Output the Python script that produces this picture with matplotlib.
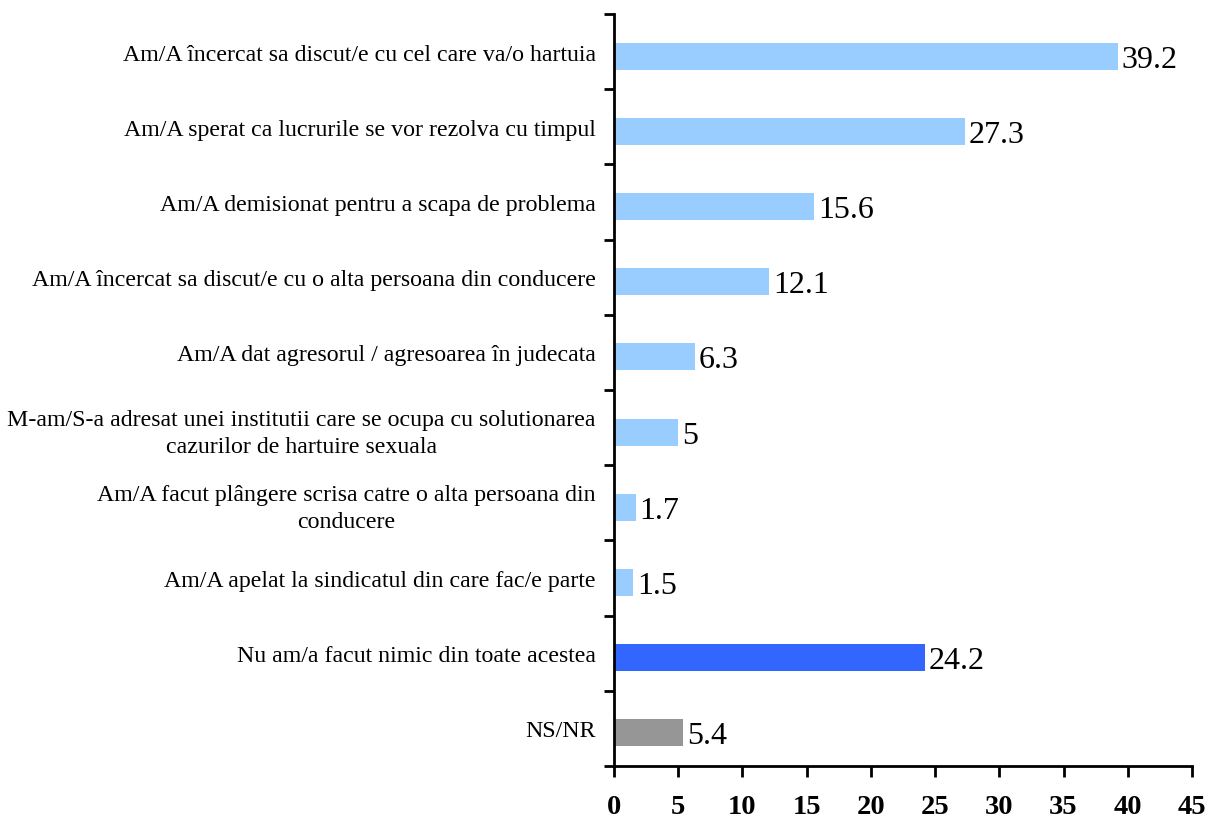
import matplotlib
matplotlib.use("Agg")
import matplotlib.pyplot as plt
import numpy as np

categories = [
    "Am/A încercat sa discut/e cu cel care va/o hartuia",
    "Am/A sperat ca lucrurile se vor rezolva cu timpul",
    "Am/A demisionat pentru a scapa de problema",
    "Am/A încercat sa discut/e cu o alta persoana din conducere",
    "Am/A dat agresorul / agresoarea în judecata",
    "M-am/S-a adresat unei institutii care se ocupa cu solutionarea\ncazurilor de hartuire sexuala",
    "Am/A facut plângere scrisa catre o alta persoana din\nconducere",
    "Am/A apelat la sindicatul din care fac/e parte",
    "Nu am/a facut nimic din toate acestea",
    "NS/NR",
]
values = [39.2, 27.3, 15.6, 12.1, 6.3, 5, 1.7, 1.5, 24.2, 5.4]
value_labels = ["39.2", "27.3", "15.6", "12.1", "6.3", "5", "1.7", "1.5", "24.2", "5.4"]
colors = ["#99CCFF"] * 8 + ["#3366FF", "#969696"]
x_ticks = [0, 5, 10, 15, 20, 25, 30, 35, 40, 45]

fig = plt.figure(figsize=(12.07, 8.20), dpi=100)
ax = fig.add_axes([614 / 1207, 1 - 767 / 820, (1192 - 614) / 1207, (767 - 15) / 820])

n = len(categories)
pos = np.arange(n)
offset = 0.06
ax.barh(pos + offset, values, height=0.36, color=colors, edgecolor="none")
ax.set_ylim(n - 0.5, -0.5)
ax.set_xlim(0, 45)

for p, v, lab in zip(pos, values, value_labels):
    ax.text(v + 0.3, p + offset + 0.04, lab, va="center", ha="left",
            fontsize=23, family="Liberation Serif")

ax.set_yticks(np.arange(-0.5, n, 1.0))
ax.set_yticklabels([])
ax.set_yticks(pos, minor=True)
ax.set_yticklabels(categories, minor=True, fontsize=17.2, family="Liberation Serif",
                   multialignment="center", linespacing=1.35)
ax.tick_params(axis="y", which="minor", length=0, pad=13)
ax.tick_params(axis="y", which="major", direction="out", length=7, width=2)

ax.set_xticks(x_ticks)
ax.set_xticklabels([str(t) for t in x_ticks], fontsize=20.5, family="Liberation Serif",
                   fontweight="bold")
ax.tick_params(axis="x", direction="out", length=8, width=2, pad=12)

for s in ["top", "right"]:
    ax.spines[s].set_visible(False)
for s in ["left", "bottom"]:
    ax.spines[s].set_linewidth(2)

fig.savefig("out.png", dpi=100)
